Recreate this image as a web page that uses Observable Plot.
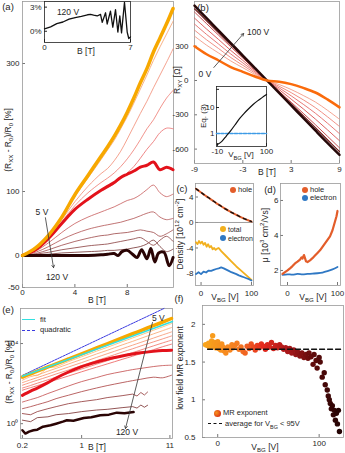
<!DOCTYPE html>
<html><head><meta charset="utf-8">
<script src="https://cdn.jsdelivr.net/npm/d3@7"></script>
<script src="https://cdn.jsdelivr.net/npm/@observablehq/plot@0.6"></script>
<style>
body{margin:0;background:#fff;}
#fig{position:relative;width:345px;height:453px;overflow:hidden;font-family:"Liberation Sans",Arial,Helvetica,sans-serif;color:#262626;background:#fff;}
.t{position:absolute;white-space:nowrap;line-height:1;}
.t sub,.t sup{font-size:72%;line-height:0;}
.sw{position:absolute;}
</style></head><body><div id="fig"></div>
<script>
// ---------- DATA ----------
// (a) MR vs B, several gate voltages
const aB = [0,1,2,3,4,5,6,6.5,7,7.5,8,8.5,9,9.5,10,10.5,11,11.5];
const a05 = [0,12,32,60,95,125,155,170,186,204,224,246,270,292,318,340,362,386];
const aT1 = [0,11,31,59,92,121,150,165,180,198,217,238,260,282,305,326,346,366];
const aT2 = [0,11,30,56,84,108,128,136,148,163,182,202,222,241,262,282,302,323];
const aT3 = [0,10,29,53,78,98,114,121,129,139,151,165,181,198,212,230,246,258];
const aT4 = [0,10,28,50,72,88,101,106,112,120,129,139,152,166,178,192,199,198];
const aRed = [0,9,27,50,72,88,102,108,114,122,127,132,138,141,146,134,138,134];
const aD1 = [0,7,20,36,50,60,68,72,76,81,86,89,95,103,110,98,92,96];
const aD2 = [0,5,14,25,34,41,46,48,50,52,55,58,62,66,68,60,56,58];
const aD3 = [0,3,9,16,22,27,31,32,34,35,36,38,40,38,36,30,34,40];
const aD4 = [0,2,5,9,12,15,17,18,20,22,24,26,28,22,16,24,30,22];
const aD5 = [0,1,2,4,5,6,7,8,8,9,10,12,14,18,24,14,6,10];
const a120B = [0,2,4,5,6,6.5,7,7.3,7.6,8,8.4,8.75,9.1,9.5,9.8,10.1,10.4,10.8,11.2,11.5];
const a120 = [0,0,0,0,1,2,3,0,6,8,2,-3,9,-5,11,-10,4,5,-16,-3];
// (a) inset, 120 V
const aInB = [0,0.5,1,1.5,2,2.5,3,3.5,3.75,4,4.29,4.56,4.7,4.97,5.1,5.37,5.56,5.78,5.97,6.13,6.27,6.51,6.73,6.86,7.0];
const aInV = [0.3,0.55,0.95,1.15,1.5,1.7,1.85,2.05,2.1,2.0,1.9,2.1,1.1,2.3,0.9,2.5,0.5,2.7,-0.1,1.9,-0.2,3.6,-0.1,-0.9,-0.7];
// (b) Hall resistance
const bB = [-9,-7.5,-6,-4.5,-3,-1.5,0,1.5,3,4.5,6,7.5,9];
const b100 = [655,545,437,328,218,109,0,-109,-218,-328,-437,-545,-650];
const bC1 = [627,522,417,311,208,103,0,-102,-205,-308,-412,-518,-622];
const bC2 = [599,497,396,295,196,98,0,-94,-190,-287,-386,-487,-589];
const bC3 = [546,450,358,263,176,87,0,-79,-163,-248,-337,-431,-527];
const bC4 = [494,403,318,232,154,76,0,-64,-134,-208,-286,-373,-465];
const bC5 = [441,356,279,201,133,65,0,-50,-106,-169,-237,-317,-402];
const bC6 = [388,309,240,171,112,53,0,-35,-79,-131,-188,-260,-339];
const b0 = [300,230,175,118,76,35,0,-10,-32,-65,-105,-165,-235];
// (b) inset Eq.(3)
const bInV = [-10,0,10,20,30,40,50,60,70,80,90,100];
const bInEq = [0.38,0.5,0.8,1.3,2.2,3.8,6,9,13,18,24,32];
const bInRefV = [-12,100];
const bInRef = [1,1];
// (c) densities
const cV = [-10,-5,0,5,10,15,20,25,30,35,40,45,50,55,60,65,70,75,80,85,90,95,100];
const cHole = [5.3,5.0,4.7,4.42,4.15,3.88,3.6,3.33,3.05,2.8,2.55,2.3,2.05,1.82,1.6,1.4,1.2,1.0,0.8,0.62,0.45,0.3,0.15];
const cElec = [-8.1,-7.8,-8.1,-7.7,-7.85,-7.55,-7.6,-7.45,-7.3,-7.2,-7.05,-7.2,-7.4,-7.6,-7.8,-7.95,-8.1,-8.3,-8.45,-8.6,-8.75,-8.9,-9.1];
const cTotV = [-10,-7,-4,-1,2,5,8,11,14,17,20,23,26,29,32,35,40,50,60,70,80,90,100];
const cTot = [-3.1,-3.4,-2.9,-3.3,-3.0,-3.5,-3.2,-3.8,-3.4,-3.9,-3.7,-4.2,-4.0,-4.3,-4.1,-4.0,-4.5,-5.3,-6.1,-6.9,-7.6,-8.3,-9.0];
// (d) mobilities
const dV = [-10,-5,0,5,10,15,20,25,28,30,33,35,37,40,45,50,55,60,65,70,75,80,85,90,95,98,100];
const dHole = [1.8,1.9,2.0,2.12,2.25,2.4,2.5,2.62,2.75,2.68,2.88,2.7,2.52,2.48,2.58,2.7,2.85,3.0,3.15,3.35,3.55,3.75,3.95,4.3,4.8,5.1,5.4];
const dElV = [-10,0,10,20,30,40,50,60,70,80,90,100];
const dElec = [1.75,1.78,1.76,1.8,1.78,1.8,1.82,1.84,1.88,1.96,2.06,2.2];
// (e) log-log MR
const eB = [0.2,0.25,0.3,0.4,0.5,0.7,1,1.5,2,3,4,5,7,9,11.5];
const e05 = [214,309,417,676,977,1700,3090,6030,9770,19100,30900,44700,77600,117000,178000];
const eT1 = [178,282,251,603,692,1260,2190,4170,6460,12300,19100,26900,45700,67600,100000];
const eT2 = [148,224,269,417,575,955,1620,3020,4570,8510,12900,18200,30200,43700,63100];
const eT3 = [112,155,200,302,417,676,1120,2040,3090,5500,8320,11500,18600,26900,38000];
const eT4 = [83,115,148,219,302,479,794,1410,2090,3720,5500,7590,12000,17000,24000];
const eT5 = [60,81,105,155,209,331,537,933,1380,2400,3550,4790,7590,10700,14800];
const eT6 = [47,63,79,115,155,240,389,661,955,1620,2340,3160,4900,6920,9330];
const eRed = [26,42,60,112,191,380,708,1200,1660,2400,3020,3470,4070,4470,4680];
const eD1 = [12,16,20,32,45,76,126,200,282,398,501,575,708,794,832];
const eD2 = [5.6,7.1,8.9,12.6,17.8,26.3,39.8,60.3,79.4,112,141,166,209,195,263];
const eD3B = [0.2,0.25,0.3,0.4,0.5,0.7,1,1.5,2,3,4,4.5,5,5.5,6];
const eD3 = [3.2,2.8,4.0,5.6,7.1,10,12.6,15.8,20,25,30,24,36,27,38];
const eD4B = [0.2,0.25,0.3,0.4,0.5,0.7,1,1.5,2,3,4,4.5,5,5.5,6];
const eD4 = [1.5,1.26,2.0,2.2,2.8,3.2,4.0,4.8,5.2,6.3,7.1,6.0,8.5,6.6,8.3];
const e120B = [0.2,0.217,0.24,0.27,0.3,0.35,0.43,0.5,0.6,0.67,0.8,1.06,1.3,1.66,2.1,2.6,3.2,4.1];
const e120 = [0.47,0.32,0.40,0.47,0.50,0.71,0.83,1.0,1.26,1.48,1.41,1.91,2.09,2.63,2.82,3.55,3.31,3.8];
const eFitB = [0.2,11.8];
const eFit = [235,126000];
const eQuadB = [0.2,9.35];
const eQuad = [257,562000];
// (f) low field MR exponent
const fV = [-12,-10,-9,-8,-7,-6,-5,-4,-3,-2,-1,0,1,2,3,4,5,6,7,8,10,12,14,15,17,19,21,23,25,27,29,31,33,35,37,39,41,43,45,47,49,51,53,55,57,59,61,63,65,67,69,71,73,75,77,79,81,83,85,87,89,90,92,94,95,97,98,100,101,103,105,106,108,109,110,111,112,113,114,115,116,117,118,119,120];
const fExp = [1.73,1.72,1.75,1.70,1.74,1.78,1.85,1.71,1.76,1.69,1.73,1.77,1.68,1.72,1.66,1.74,1.70,1.65,1.68,1.62,1.70,1.66,1.73,1.69,1.72,1.75,1.67,1.70,1.64,1.62,1.71,1.68,1.74,1.70,1.66,1.72,1.69,1.74,1.71,1.67,1.73,1.70,1.76,1.68,1.72,1.69,1.73,1.70,1.67,1.69,1.64,1.68,1.62,1.66,1.60,1.63,1.58,1.62,1.56,1.60,1.55,1.62,1.57,1.47,1.60,1.52,1.42,1.56,1.50,1.30,1.36,1.20,1.13,1.05,1.00,0.95,0.88,0.92,0.80,0.86,0.73,0.82,0.68,0.86,0.58];
const fAvgV = [-10,124];
const fAvg = [1.67,1.67];

// ---------- HELPERS ----------
const fig = document.getElementById("fig");
const FONT = "Liberation Sans, Arial, Helvetica, sans-serif";
const baseStyle = {fontSize:"8px", fontFamily:FONT, background:"transparent", color:"#262626", overflow:"visible"};
const rows = (xs, ys) => xs.map((x,i)=>({x, y:ys[i]}));
const L = (xs, ys, stroke, strokeWidth, o={}) =>
  Plot.line(rows(xs, ys), {x:"x", y:"y", stroke, strokeWidth, curve:"catmull-rom", ...o});
function place(svg, left, top){
  svg.style.position="absolute"; svg.style.left=left+"px"; svg.style.top=top+"px";
  fig.appendChild(svg);
}
function axes(xt, yt, o={}) {
  const fmt = d => String(d);
  return [
    Plot.axisX({ticks:xt, tickFormat:o.xf||fmt, tickSize:-3, tickPadding:o.xp??6, label:null, stroke:o.tick||"#777"}),
    Plot.axisY({ticks:yt, tickFormat:o.yf||fmt, tickSize:-3, tickPadding:o.yp??6, label:null, stroke:o.tick||"#777"}),
    Plot.frame({stroke:o.frame||"#9a9a9a", strokeWidth:0.8})
  ];
}
function T(html, x, y, o={}) {
  const d=document.createElement("div"); d.className="t"; d.innerHTML=html;
  d.style.left=x+"px"; d.style.top=y+"px"; d.style.fontSize=(o.size||8.5)+"px";
  const tx = o.align==="left"?"0":o.align==="right"?"-100%":"-50%";
  d.style.transform=`translate(${tx},-50%)`+(o.rot?" rotate(-90deg)":"");
  fig.appendChild(d);
}
function dotSw(x,y,bg,r=3){const d=document.createElement("div");d.className="sw";
  Object.assign(d.style,{left:(x-r)+"px",top:(y-r)+"px",width:2*r+"px",height:2*r+"px",borderRadius:"50%",background:bg});fig.appendChild(d);}
function lineSw(x1,x2,y,color,w,dash){const d=document.createElement("div");d.className="sw";
  Object.assign(d.style,{left:x1+"px",top:(y-w/2)+"px",width:(x2-x1)+"px",height:"0px",borderTop:`${w}px ${dash?"dashed":"solid"} ${color}`});fig.appendChild(d);}

// ---------- (a) ----------
const cOr = "#f7a800", cRed = "#e3121b", cDark = "#2a0404";
place(Plot.plot({
  width:176, height:305, marginLeft:22, marginRight:3, marginTop:1, marginBottom:18,
  x:{domain:[0,11.53]}, y:{domain:[-50,396.9]}, style:baseStyle,
  marks:[
    ...axes([0,4,8],[-50,0,100,300],{xp:5,yp:6}),
    L(aB,aD5,"#743232",0.8), L(aB,aD4,"#883c3c",0.8), L(aB,aD3,"#9c4646",0.8),
    L(aB,aD2,"#b05050",0.8), L(aB,aD1,"#c65a5a",0.8),
    L(aB,aT4,"#ea6868",0.8), L(aB,aT3,"#ee7870",0.8), L(aB,aT2,"#f18a72",0.8), L(aB,aT1,"#f5a06a",0.8),
    L(aB,aRed,cRed,3), L(a120B,a120,cDark,3), L(aB,a05,cOr,3.5),
    Plot.arrow([{x1:1.75,y1:59,x2:2.37,y2:-19}],{x1:"x1",y1:"y1",x2:"x2",y2:"y2",stroke:"#333",strokeWidth:0.8,headLength:5})
  ]
}), 0, 0);
// (a) inset
place(Plot.plot({
  width:134, height:56, marginLeft:44, marginRight:4, marginTop:1, marginBottom:14,
  x:{domain:[0,7]}, y:{domain:[-1.4,3.7]}, style:baseStyle,
  marks:[
    Plot.frame({fill:"white"}),
    ...axes([0,7],[0,3],{yf:d=>d+"%", xp:5, yp:6, frame:"#222", tick:"#222"}),
    L(aInB,aInV,"#111",1.3,{curve:"linear"})
  ]
}), 0, 0);

// ---------- (b) ----------
place(Plot.plot({
  width:175, height:180, marginLeft:24, marginRight:6, marginTop:1, marginBottom:17,
  x:{domain:[-9,9]}, y:{domain:[-726,691]}, style:baseStyle,
  marks:[
    ...axes([-9,-3,3,9],[-600,-300,0,300],{xp:6,yp:9}),
    L(bB,bC6,"#f39a86",0.9), L(bB,bC5,"#ee8276",0.9), L(bB,bC4,"#e46a66",0.9),
    L(bB,bC3,"#d9504f",0.9), L(bB,bC2,"#c13a3a",0.9), L(bB,bC1,"#6b1515",1.2),
    L(bB,b100,"#260808",2.5), L(bB,b0,"#fa6b0c",2.5),
    Plot.arrow([{x1:-6.6,y1:114,x2:-2.9,y2:411}],{x1:"x1",y1:"y1",x2:"x2",y2:"y2",stroke:"#333",strokeWidth:0.8,headLength:5})
  ]
}), 170, 0);
// (b) inset
place(Plot.plot({
  width:78, height:80, marginLeft:24, marginRight:4, marginTop:4, marginBottom:16,
  x:{domain:[-12,100]}, y:{type:"log", domain:[0.316,64.4]}, style:baseStyle,
  marks:[
    Plot.frame({fill:"white"}),
    ...axes([-10,100],[1,10,50],{frame:"#222", tick:"#222", xp:5, yp:5}),
    L(bInRefV,bInRef,"#3d9be6",1.6,{strokeDasharray:"3,1.5",curve:"linear"}),
    L(bInV,bInEq,"#111",1.2)
  ]
}), 192, 82);

// ---------- (c) ----------
place(Plot.plot({
  width:86, height:122, marginLeft:25, marginRight:3, marginTop:5, marginBottom:15,
  x:{domain:[-11,104]}, y:{domain:[-9.89,6.12]}, style:baseStyle,
  marks:[
    ...axes([0,100],[-8,-4,0,4],{xp:8,yp:5}),
    Plot.ruleY([0],{stroke:"#888",strokeWidth:0.8}),
    L(cV,cHole,"#e35d2a",2),
    L(cV,cHole,"#111",1.4,{strokeDasharray:"3,4"}),
    L(cTotV,cTot,"#f2b01e",1.8,{curve:"linear"}),
    L(cV,cElec,"#2f78c4",1.8,{curve:"linear"})
  ]
}), 170, 178);

// ---------- (d) ----------
place(Plot.plot({
  width:86, height:122, marginLeft:22, marginRight:4, marginTop:5, marginBottom:15,
  x:{domain:[-14,106]}, y:{domain:[1.14,6.97]}, style:baseStyle,
  marks:[
    ...axes([0,100],[2,4,6],{xp:8,yp:5}),
    L(dElV,dElec,"#2f78c4",1.8),
    L(dV,dHole,"#e35d2a",2.2,{curve:"linear"})
  ]
}), 258, 178);

// ---------- (e) ----------
const sup = {0:"⁰",4:"⁴"};
place(Plot.plot({
  width:176, height:153, marginLeft:20, marginRight:4, marginTop:8, marginBottom:15,
  x:{type:"log", domain:[0.19,11.8]}, y:{type:"log", domain:[0.182,562000]}, style:baseStyle,
  marks:[
    ...axes([0.2,1,11],[1,10000],{yf:d=>"10"+sup[Math.round(Math.log10(d))], xp:7, yp:5}),
    L(eD4B,eD4,"#762a2a",0.8,{curve:"linear"}), L(eD3B,eD3,"#8e3434",0.8,{curve:"linear"}),
    L(eB,eD2,"#a83e3e",0.8), L(eB,eD1,"#c24a4a",0.8),
    L(eB,eT6,"#eb5a58",0.8), L(eB,eT5,"#f06c60",0.8), L(eB,eT4,"#f47e64",0.8),
    L(eB,eT3,"#f79068",0.8), L(eB,eT2,"#f9a36a",0.8), L(eB,eT1,"#fbb56a",0.8),
    L(eB,eRed,cRed,3), L(e120B,e120,cDark,2.5,{curve:"linear"}),
    L(eQuadB,eQuad,"#3a3ae0",1,{strokeDasharray:"2,1",curve:"linear"}),
    L(eB,e05,cOr,3.5),
    L(eFitB,eFit,"#33e0e0",1.5,{curve:"linear"}),
    Plot.arrow([{x1:6.85,y1:112000,x2:3.29,y2:0.575}],{x1:"x1",y1:"y1",x2:"x2",y2:"y2",stroke:"#333",strokeWidth:0.8,headLength:5})
  ]
}), 0, 300);

// ---------- (f) ----------
place(Plot.plot({
  width:175, height:153, marginLeft:32, marginRight:2, marginTop:5, marginBottom:16,
  x:{domain:[-15,124]}, y:{domain:[0.5,2.25]}, style:baseStyle,
  color:{type:"linear", domain:[-12,20,45,70,95,120], range:["#f9a51b","#f57c22","#e52b1f","#a8171a","#5e0b0b","#240404"]},
  marks:[
    ...axes([0,100],[0.5,1,1.5,2],{xp:6,yp:10}),
    Plot.dot(rows(fV,fExp),{x:"x", y:"y", fill:"x", r:2.7}),
    L(fAvgV,fAvg,"#111",1.3,{strokeDasharray:"5,3",curve:"linear"})
  ]
}), 170, 300);

// ---------- TEXT ----------
T("(a)",8,7,{size:9.5}); T("(b)",203,8,{size:9.5}); T("(c)",182,189,{size:9.5});
T("(d)",270,190,{size:9.5}); T("(e)",8,310,{size:9.5}); T("(f)",179,299,{size:9.5});
T("(R<sub>XX</sub> - R<sub>0</sub>)/R<sub>0</sub> [%]",8,140,{rot:true});
T("B [T]",97,300); T("B [T]",86,51); T("120 V",68,12);
T("5 V",42,212); T("120 V",57,277);
T("R<sub>XY</sub> [Ω]",177,80,{rot:true}); T("B [T]",267,172);
T("100 V",247,32,{align:"left"}); T("0 V",205,74);
T("Eq. (3)",204,116,{rot:true,size:8}); T("V<sub>BG</sub> [V]",241,155,{size:8});
T("Density [10<sup>12</sup> cm<sup>-2</sup>]",180,234,{rot:true});
T("V<sub>BG</sub> [V]",225,297); T("V<sub>BG</sub> [V]",313,297);
T("μ [10<sup>3</sup> cm<sup>2</sup>/Vs]",265,235,{rot:true});
T("(R<sub>XX</sub> - R<sub>0</sub>)/R<sub>0</sub> [%]",9,372,{rot:true});
T("B [T]",97,447); T("5 V",152,318,{align:"left"}); T("120 V",127,432);
T("low field MR exponent",180,368,{rot:true}); T("V<sub>BG</sub> [V]",265,447);
// legends
dotSw(233,190,"#e35d2a"); T("hole",238,190,{align:"left",size:7.5});
dotSw(223,229,"#f2b01e"); T("total",228,229,{align:"left",size:7});
dotSw(223,238,"#2f78c4"); T("electron",228,238,{align:"left",size:7});
dotSw(305,190,"#e35d2a"); T("hole",310,190,{align:"left",size:7.5});
dotSw(305,198,"#2f78c4"); T("electron",310,198,{align:"left",size:7.5});
lineSw(22,35,320,"#33e0e0",1.5,false); T("fit",40,320,{align:"left",size:7.5});
lineSw(22,35,330,"#3a3ae0",1,true); T("quadratic",40,330,{align:"left",size:7.5});
dotSw(217,413,"radial-gradient(circle at 35% 40%, #f7941d, #d01010)",3.5); T("MR exponent",223,413,{align:"left",size:7.5});
lineSw(208,222,424,"#111",1.3,true); T("average for V<sub>BG</sub> &lt; 95V",225,424,{align:"left",size:7.5});
</script></body></html>
